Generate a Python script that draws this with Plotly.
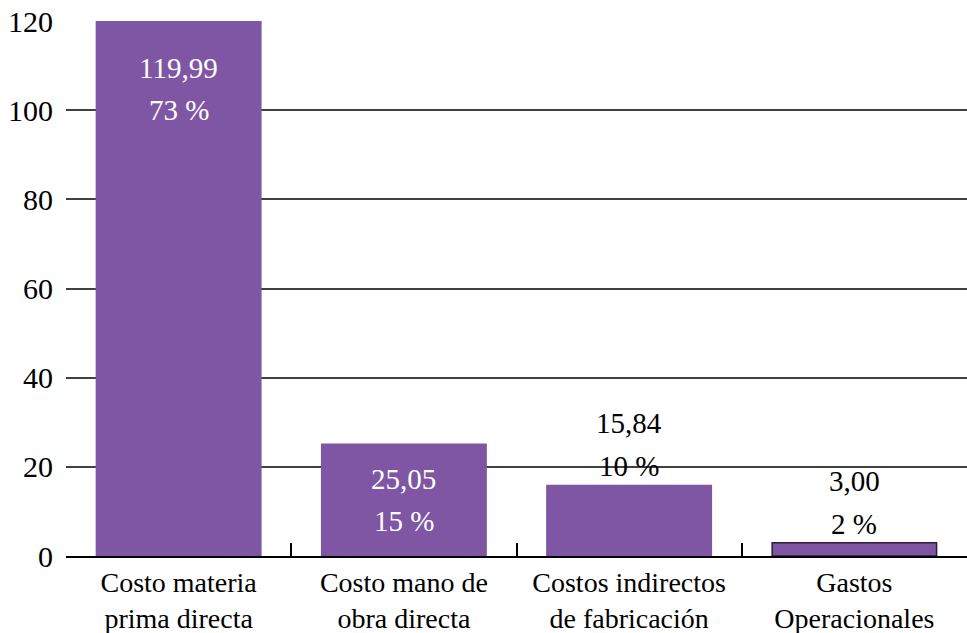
import plotly.graph_objects as go

categories = ["Costo materia<br>prima directa", "Costo mano de<br>obra directa",
              "Costos indirectos<br>de fabricación", "Gastos<br>Operacionales"]
values = [119.99, 25.05, 15.84, 3.00]
y_ticks = [0, 20, 40, 60, 80, 100, 120]

# label placement style per bar
label_mode = ["inside_top", "inside_mid", "outside", "outside"]

total = sum(values)
FONT = "Liberation Serif, Times New Roman, serif"
BAR = "#7F56A4"

fig = go.Figure()
fig.add_trace(go.Bar(
    x=categories, y=values,
    marker=dict(color=BAR,
                line=dict(color=[BAR, BAR, BAR, "#2a1d38"], width=1.5)),
    hoverinfo="skip",
))

annotations = []
for cat, v, mode in zip(categories, values, label_mode):
    val_txt = f"{v:.2f}".replace(".", ",")
    pct_txt = f"{round(v / total * 100):d} %"
    if mode == "inside_top":
        y, s1, s2, col = v, -47, -89, "white"
    elif mode == "inside_mid":
        y, s1, s2, col = v / 2, 21, -21, "white"
    else:
        y, s1, s2, col = v, 62, 19, "black"
    for txt, sh in ((val_txt, s1), (pct_txt, s2)):
        annotations.append(dict(x=cat, y=y, yshift=sh, text=txt, showarrow=False,
                                xref="x", yref="y", yanchor="middle",
                                font=dict(family=FONT, size=29, color=col)))

fig.update_layout(
    width=967, height=633,
    margin=dict(l=66, r=0, t=21, b=77),
    paper_bgcolor="white", plot_bgcolor="white",
    showlegend=False,
    bargap=0.27,
    font=dict(family=FONT, size=29, color="black"),
    annotations=annotations,
    xaxis=dict(type="category", tickson="boundaries", ticks="inside", ticklen=13,
               tickwidth=2, tickcolor="black", showline=True, linecolor="black",
               linewidth=2, showgrid=False,
               tickfont=dict(family=FONT, size=28, color="black")),
    yaxis=dict(range=[0, 120], tickvals=y_ticks, showgrid=True, gridcolor="#404040",
               gridwidth=1.5, zeroline=False, showline=False, ticks="",
               ticklabelstandoff=12,
               tickfont=dict(family=FONT, size=30, color="black")),
)

fig.write_html("out.html")
